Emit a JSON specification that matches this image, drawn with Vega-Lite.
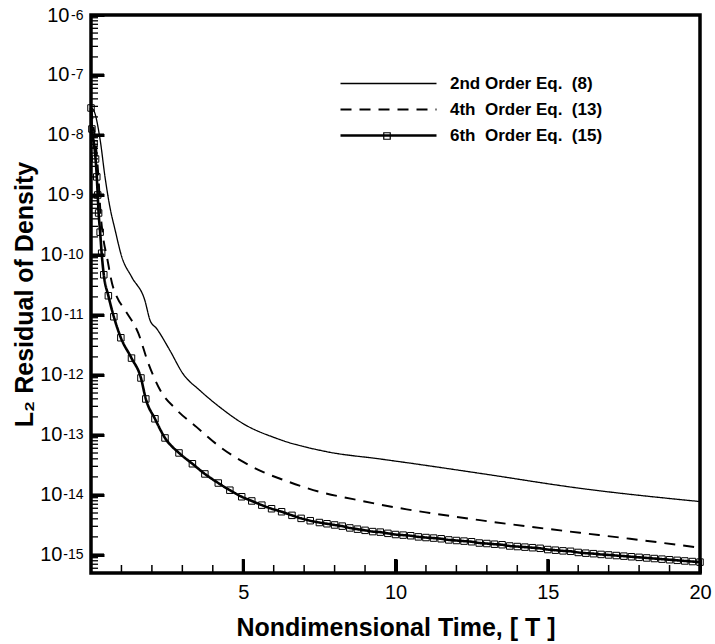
{
  "$schema": "https://vega.github.io/schema/vega-lite/v6.json",
  "width": 609,
  "height": 558,
  "autosize": {"type": "none"},
  "padding": {"left": 91, "top": 15, "right": 15, "bottom": 71},
  "background": "white",
  "config": {
    "view": {"stroke": "black", "strokeWidth": 3.5},
    "font": "Liberation Sans",
    "axis": {
      "labelFont": "Liberation Sans", "titleFont": "Liberation Sans",
      "labelColor": "black", "tickColor": "black", "titleColor": "black",
      "grid": false, "domain": false, "labelFlush": false, "labelOverlap": false, "ticks": true
    }
  },
  "datasets": {
    "yticks": [
      {"v": 1e-15, "kind": "major"}, {"v": 1e-14, "kind": "major"}, {"v": 1e-13, "kind": "major"},
      {"v": 1e-12, "kind": "major"}, {"v": 1e-11, "kind": "major"}, {"v": 1e-10, "kind": "major"},
      {"v": 1e-9, "kind": "major"}, {"v": 1e-8, "kind": "major"}, {"v": 1e-7, "kind": "major"},
      {"v": 5e-16, "kind": "minor"}, {"v": 6e-16, "kind": "minor"}, {"v": 7e-16, "kind": "minor"}, {"v": 8e-16, "kind": "minor"}, {"v": 9e-16, "kind": "minor"},
      {"v": 2e-15, "kind": "minor"}, {"v": 3e-15, "kind": "minor"}, {"v": 4e-15, "kind": "minor"}, {"v": 5e-15, "kind": "minor"}, {"v": 6e-15, "kind": "minor"}, {"v": 7e-15, "kind": "minor"}, {"v": 8e-15, "kind": "minor"}, {"v": 9e-15, "kind": "minor"},
      {"v": 2e-14, "kind": "minor"}, {"v": 3e-14, "kind": "minor"}, {"v": 4e-14, "kind": "minor"}, {"v": 5e-14, "kind": "minor"}, {"v": 6e-14, "kind": "minor"}, {"v": 7e-14, "kind": "minor"}, {"v": 8e-14, "kind": "minor"}, {"v": 9e-14, "kind": "minor"},
      {"v": 2e-13, "kind": "minor"}, {"v": 3e-13, "kind": "minor"}, {"v": 4e-13, "kind": "minor"}, {"v": 5e-13, "kind": "minor"}, {"v": 6e-13, "kind": "minor"}, {"v": 7e-13, "kind": "minor"}, {"v": 8e-13, "kind": "minor"}, {"v": 9e-13, "kind": "minor"},
      {"v": 2e-12, "kind": "minor"}, {"v": 3e-12, "kind": "minor"}, {"v": 4e-12, "kind": "minor"}, {"v": 5e-12, "kind": "minor"}, {"v": 6e-12, "kind": "minor"}, {"v": 7e-12, "kind": "minor"}, {"v": 8e-12, "kind": "minor"}, {"v": 9e-12, "kind": "minor"},
      {"v": 2e-11, "kind": "minor"}, {"v": 3e-11, "kind": "minor"}, {"v": 4e-11, "kind": "minor"}, {"v": 5e-11, "kind": "minor"}, {"v": 6e-11, "kind": "minor"}, {"v": 7e-11, "kind": "minor"}, {"v": 8e-11, "kind": "minor"}, {"v": 9e-11, "kind": "minor"},
      {"v": 2e-10, "kind": "minor"}, {"v": 3e-10, "kind": "minor"}, {"v": 4e-10, "kind": "minor"}, {"v": 5e-10, "kind": "minor"}, {"v": 6e-10, "kind": "minor"}, {"v": 7e-10, "kind": "minor"}, {"v": 8e-10, "kind": "minor"}, {"v": 9e-10, "kind": "minor"},
      {"v": 2e-9, "kind": "minor"}, {"v": 3e-9, "kind": "minor"}, {"v": 4e-9, "kind": "minor"}, {"v": 5e-9, "kind": "minor"}, {"v": 6e-9, "kind": "minor"}, {"v": 7e-9, "kind": "minor"}, {"v": 8e-9, "kind": "minor"}, {"v": 9e-9, "kind": "minor"},
      {"v": 2e-8, "kind": "minor"}, {"v": 3e-8, "kind": "minor"}, {"v": 4e-8, "kind": "minor"}, {"v": 5e-8, "kind": "minor"}, {"v": 6e-8, "kind": "minor"}, {"v": 7e-8, "kind": "minor"}, {"v": 8e-8, "kind": "minor"}, {"v": 9e-8, "kind": "minor"},
      {"v": 2e-7, "kind": "minor"}, {"v": 3e-7, "kind": "minor"}, {"v": 4e-7, "kind": "minor"}, {"v": 5e-7, "kind": "minor"}, {"v": 6e-7, "kind": "minor"}, {"v": 7e-7, "kind": "minor"}, {"v": 8e-7, "kind": "minor"}, {"v": 9e-7, "kind": "minor"}
    ],
    "xticks": [
      {"v": 5, "kind": "major"}, {"v": 10, "kind": "major"}, {"v": 15, "kind": "major"},
      {"v": 1, "kind": "minor"}, {"v": 2, "kind": "minor"}, {"v": 3, "kind": "minor"}, {"v": 4, "kind": "minor"},
      {"v": 6, "kind": "minor"}, {"v": 7, "kind": "minor"}, {"v": 8, "kind": "minor"}, {"v": 9, "kind": "minor"},
      {"v": 11, "kind": "minor"}, {"v": 12, "kind": "minor"}, {"v": 13, "kind": "minor"}, {"v": 14, "kind": "minor"},
      {"v": 16, "kind": "minor"}, {"v": 17, "kind": "minor"}, {"v": 18, "kind": "minor"}, {"v": 19, "kind": "minor"}
    ],
    "curves": [
      {"series": "2nd Order Eq.\u00a0\u00a0(8)", "x": 0, "y": 2.82e-8},
      {"series": "2nd Order Eq.\u00a0\u00a0(8)", "x": 0.08, "y": 2.63e-8},
      {"series": "2nd Order Eq.\u00a0\u00a0(8)", "x": 0.30, "y": 8.32e-9},
      {"series": "2nd Order Eq.\u00a0\u00a0(8)", "x": 0.46, "y": 2.0e-9},
      {"series": "2nd Order Eq.\u00a0\u00a0(8)", "x": 0.62, "y": 6.31e-10},
      {"series": "2nd Order Eq.\u00a0\u00a0(8)", "x": 0.79, "y": 2.63e-10},
      {"series": "2nd Order Eq.\u00a0\u00a0(8)", "x": 1.01, "y": 9.33e-11},
      {"series": "2nd Order Eq.\u00a0\u00a0(8)", "x": 1.34, "y": 4.27e-11},
      {"series": "2nd Order Eq.\u00a0\u00a0(8)", "x": 1.77, "y": 1.74e-11},
      {"series": "2nd Order Eq.\u00a0\u00a0(8)", "x": 1.94, "y": 8.13e-12},
      {"series": "2nd Order Eq.\u00a0\u00a0(8)", "x": 2.16, "y": 5.89e-12},
      {"series": "2nd Order Eq.\u00a0\u00a0(8)", "x": 2.59, "y": 2.57e-12},
      {"series": "2nd Order Eq.\u00a0\u00a0(8)", "x": 3.02, "y": 1.05e-12},
      {"series": "2nd Order Eq.\u00a0\u00a0(8)", "x": 3.58, "y": 5.5e-13},
      {"series": "2nd Order Eq.\u00a0\u00a0(8)", "x": 4.24, "y": 2.88e-13},
      {"series": "2nd Order Eq.\u00a0\u00a0(8)", "x": 4.99, "y": 1.55e-13},
      {"series": "2nd Order Eq.\u00a0\u00a0(8)", "x": 6.11, "y": 8.71e-14},
      {"series": "2nd Order Eq.\u00a0\u00a0(8)", "x": 7.75, "y": 5.25e-14},
      {"series": "2nd Order Eq.\u00a0\u00a0(8)", "x": 9.49, "y": 3.98e-14},
      {"series": "2nd Order Eq.\u00a0\u00a0(8)", "x": 10.48, "y": 3.39e-14},
      {"series": "2nd Order Eq.\u00a0\u00a0(8)", "x": 12.78, "y": 2.29e-14},
      {"series": "2nd Order Eq.\u00a0\u00a0(8)", "x": 16.06, "y": 1.29e-14},
      {"series": "2nd Order Eq.\u00a0\u00a0(8)", "x": 20, "y": 7.76e-15},

      {"series": "4th\u00a0\u00a0Order Eq.\u00a0\u00a0(13)", "x": 0, "y": 2.82e-8},
      {"series": "4th\u00a0\u00a0Order Eq.\u00a0\u00a0(13)", "x": 0.08, "y": 1.41e-8},
      {"series": "4th\u00a0\u00a0Order Eq.\u00a0\u00a0(13)", "x": 0.16, "y": 6.76e-9},
      {"series": "4th\u00a0\u00a0Order Eq.\u00a0\u00a0(13)", "x": 0.26, "y": 1.48e-9},
      {"series": "4th\u00a0\u00a0Order Eq.\u00a0\u00a0(13)", "x": 0.30, "y": 6.31e-10},
      {"series": "4th\u00a0\u00a0Order Eq.\u00a0\u00a0(13)", "x": 0.39, "y": 2.14e-10},
      {"series": "4th\u00a0\u00a0Order Eq.\u00a0\u00a0(13)", "x": 0.53, "y": 8.91e-11},
      {"series": "4th\u00a0\u00a0Order Eq.\u00a0\u00a0(13)", "x": 0.69, "y": 3.39e-11},
      {"series": "4th\u00a0\u00a0Order Eq.\u00a0\u00a0(13)", "x": 0.85, "y": 2.0e-11},
      {"series": "4th\u00a0\u00a0Order Eq.\u00a0\u00a0(13)", "x": 1.12, "y": 1.2e-11},
      {"series": "4th\u00a0\u00a0Order Eq.\u00a0\u00a0(13)", "x": 1.55, "y": 5.01e-12},
      {"series": "4th\u00a0\u00a0Order Eq.\u00a0\u00a0(13)", "x": 1.88, "y": 1.58e-12},
      {"series": "4th\u00a0\u00a0Order Eq.\u00a0\u00a0(13)", "x": 2.27, "y": 5.62e-13},
      {"series": "4th\u00a0\u00a0Order Eq.\u00a0\u00a0(13)", "x": 2.81, "y": 2.63e-13},
      {"series": "4th\u00a0\u00a0Order Eq.\u00a0\u00a0(13)", "x": 3.47, "y": 1.35e-13},
      {"series": "4th\u00a0\u00a0Order Eq.\u00a0\u00a0(13)", "x": 4.24, "y": 6.31e-14},
      {"series": "4th\u00a0\u00a0Order Eq.\u00a0\u00a0(13)", "x": 5.0, "y": 3.55e-14},
      {"series": "4th\u00a0\u00a0Order Eq.\u00a0\u00a0(13)", "x": 5.66, "y": 2.4e-14},
      {"series": "4th\u00a0\u00a0Order Eq.\u00a0\u00a0(13)", "x": 6.32, "y": 1.78e-14},
      {"series": "4th\u00a0\u00a0Order Eq.\u00a0\u00a0(13)", "x": 7.52, "y": 1.12e-14},
      {"series": "4th\u00a0\u00a0Order Eq.\u00a0\u00a0(13)", "x": 8.61, "y": 8.51e-15},
      {"series": "4th\u00a0\u00a0Order Eq.\u00a0\u00a0(13)", "x": 9.49, "y": 6.92e-15},
      {"series": "4th\u00a0\u00a0Order Eq.\u00a0\u00a0(13)", "x": 10.37, "y": 5.75e-15},
      {"series": "4th\u00a0\u00a0Order Eq.\u00a0\u00a0(13)", "x": 11.13, "y": 5.01e-15},
      {"series": "4th\u00a0\u00a0Order Eq.\u00a0\u00a0(13)", "x": 12.77, "y": 3.8e-15},
      {"series": "4th\u00a0\u00a0Order Eq.\u00a0\u00a0(13)", "x": 14.42, "y": 2.95e-15},
      {"series": "4th\u00a0\u00a0Order Eq.\u00a0\u00a0(13)", "x": 16.06, "y": 2.34e-15},
      {"series": "4th\u00a0\u00a0Order Eq.\u00a0\u00a0(13)", "x": 17.7, "y": 1.86e-15},
      {"series": "4th\u00a0\u00a0Order Eq.\u00a0\u00a0(13)", "x": 20, "y": 1.32e-15},

      {"series": "6th\u00a0\u00a0Order Eq.\u00a0\u00a0(15)", "x": 0, "y": 2.82e-8},
      {"series": "6th\u00a0\u00a0Order Eq.\u00a0\u00a0(15)", "x": 0.03, "y": 1.26e-8},
      {"series": "6th\u00a0\u00a0Order Eq.\u00a0\u00a0(15)", "x": 0.10, "y": 7.08e-9},
      {"series": "6th\u00a0\u00a0Order Eq.\u00a0\u00a0(15)", "x": 0.15, "y": 3.98e-9},
      {"series": "6th\u00a0\u00a0Order Eq.\u00a0\u00a0(15)", "x": 0.19, "y": 2.0e-9},
      {"series": "6th\u00a0\u00a0Order Eq.\u00a0\u00a0(15)", "x": 0.22, "y": 1.0e-9},
      {"series": "6th\u00a0\u00a0Order Eq.\u00a0\u00a0(15)", "x": 0.25, "y": 5.01e-10},
      {"series": "6th\u00a0\u00a0Order Eq.\u00a0\u00a0(15)", "x": 0.30, "y": 2.4e-10},
      {"series": "6th\u00a0\u00a0Order Eq.\u00a0\u00a0(15)", "x": 0.35, "y": 1.07e-10},
      {"series": "6th\u00a0\u00a0Order Eq.\u00a0\u00a0(15)", "x": 0.42, "y": 4.68e-11},
      {"series": "6th\u00a0\u00a0Order Eq.\u00a0\u00a0(15)", "x": 0.57, "y": 2.09e-11},
      {"series": "6th\u00a0\u00a0Order Eq.\u00a0\u00a0(15)", "x": 0.75, "y": 9.33e-12},
      {"series": "6th\u00a0\u00a0Order Eq.\u00a0\u00a0(15)", "x": 0.98, "y": 4.17e-12},
      {"series": "6th\u00a0\u00a0Order Eq.\u00a0\u00a0(15)", "x": 1.33, "y": 1.91e-12},
      {"series": "6th\u00a0\u00a0Order Eq.\u00a0\u00a0(15)", "x": 1.64, "y": 8.91e-13},
      {"series": "6th\u00a0\u00a0Order Eq.\u00a0\u00a0(15)", "x": 1.80, "y": 3.98e-13},
      {"series": "6th\u00a0\u00a0Order Eq.\u00a0\u00a0(15)", "x": 2.10, "y": 1.86e-13},
      {"series": "6th\u00a0\u00a0Order Eq.\u00a0\u00a0(15)", "x": 2.43, "y": 8.91e-14},
      {"series": "6th\u00a0\u00a0Order Eq.\u00a0\u00a0(15)", "x": 2.89, "y": 5.01e-14},
      {"series": "6th\u00a0\u00a0Order Eq.\u00a0\u00a0(15)", "x": 3.33, "y": 3.31e-14},
      {"series": "6th\u00a0\u00a0Order Eq.\u00a0\u00a0(15)", "x": 3.74, "y": 2.24e-14},
      {"series": "6th\u00a0\u00a0Order Eq.\u00a0\u00a0(15)", "x": 4.18, "y": 1.58e-14},
      {"series": "6th\u00a0\u00a0Order Eq.\u00a0\u00a0(15)", "x": 4.56, "y": 1.2e-14},
      {"series": "6th\u00a0\u00a0Order Eq.\u00a0\u00a0(15)", "x": 4.95, "y": 9.33e-15},
      {"series": "6th\u00a0\u00a0Order Eq.\u00a0\u00a0(15)", "x": 5.28, "y": 7.94e-15},
      {"series": "6th\u00a0\u00a0Order Eq.\u00a0\u00a0(15)", "x": 5.61, "y": 6.76e-15},
      {"series": "6th\u00a0\u00a0Order Eq.\u00a0\u00a0(15)", "x": 5.93, "y": 5.89e-15},
      {"series": "6th\u00a0\u00a0Order Eq.\u00a0\u00a0(15)", "x": 6.26, "y": 5.25e-15},
      {"series": "6th\u00a0\u00a0Order Eq.\u00a0\u00a0(15)", "x": 6.6, "y": 4.57e-15},
      {"series": "6th\u00a0\u00a0Order Eq.\u00a0\u00a0(15)", "x": 6.9, "y": 4.07e-15},
      {"series": "6th\u00a0\u00a0Order Eq.\u00a0\u00a0(15)", "x": 7.2, "y": 3.72e-15},
      {"series": "6th\u00a0\u00a0Order Eq.\u00a0\u00a0(15)", "x": 7.5, "y": 3.47e-15},
      {"series": "6th\u00a0\u00a0Order Eq.\u00a0\u00a0(15)", "x": 7.75, "y": 3.31e-15},
      {"series": "6th\u00a0\u00a0Order Eq.\u00a0\u00a0(15)", "x": 8.0, "y": 3.16e-15},
      {"series": "6th\u00a0\u00a0Order Eq.\u00a0\u00a0(15)", "x": 8.25, "y": 3.02e-15},
      {"series": "6th\u00a0\u00a0Order Eq.\u00a0\u00a0(15)", "x": 8.5, "y": 2.82e-15},
      {"series": "6th\u00a0\u00a0Order Eq.\u00a0\u00a0(15)", "x": 8.75, "y": 2.69e-15},
      {"series": "6th\u00a0\u00a0Order Eq.\u00a0\u00a0(15)", "x": 9.0, "y": 2.57e-15},
      {"series": "6th\u00a0\u00a0Order Eq.\u00a0\u00a0(15)", "x": 9.25, "y": 2.45e-15},
      {"series": "6th\u00a0\u00a0Order Eq.\u00a0\u00a0(15)", "x": 9.5, "y": 2.4e-15},
      {"series": "6th\u00a0\u00a0Order Eq.\u00a0\u00a0(15)", "x": 9.75, "y": 2.29e-15},
      {"series": "6th\u00a0\u00a0Order Eq.\u00a0\u00a0(15)", "x": 10.0, "y": 2.19e-15},
      {"series": "6th\u00a0\u00a0Order Eq.\u00a0\u00a0(15)", "x": 10.25, "y": 2.14e-15},
      {"series": "6th\u00a0\u00a0Order Eq.\u00a0\u00a0(15)", "x": 10.5, "y": 2.09e-15},
      {"series": "6th\u00a0\u00a0Order Eq.\u00a0\u00a0(15)", "x": 10.75, "y": 2.0e-15},
      {"series": "6th\u00a0\u00a0Order Eq.\u00a0\u00a0(15)", "x": 11.0, "y": 1.95e-15},
      {"series": "6th\u00a0\u00a0Order Eq.\u00a0\u00a0(15)", "x": 11.25, "y": 1.91e-15},
      {"series": "6th\u00a0\u00a0Order Eq.\u00a0\u00a0(15)", "x": 11.5, "y": 1.86e-15},
      {"series": "6th\u00a0\u00a0Order Eq.\u00a0\u00a0(15)", "x": 11.75, "y": 1.78e-15},
      {"series": "6th\u00a0\u00a0Order Eq.\u00a0\u00a0(15)", "x": 12.0, "y": 1.74e-15},
      {"series": "6th\u00a0\u00a0Order Eq.\u00a0\u00a0(15)", "x": 12.25, "y": 1.70e-15},
      {"series": "6th\u00a0\u00a0Order Eq.\u00a0\u00a0(15)", "x": 12.5, "y": 1.66e-15},
      {"series": "6th\u00a0\u00a0Order Eq.\u00a0\u00a0(15)", "x": 12.75, "y": 1.58e-15},
      {"series": "6th\u00a0\u00a0Order Eq.\u00a0\u00a0(15)", "x": 13.0, "y": 1.55e-15},
      {"series": "6th\u00a0\u00a0Order Eq.\u00a0\u00a0(15)", "x": 13.25, "y": 1.51e-15},
      {"series": "6th\u00a0\u00a0Order Eq.\u00a0\u00a0(15)", "x": 13.5, "y": 1.48e-15},
      {"series": "6th\u00a0\u00a0Order Eq.\u00a0\u00a0(15)", "x": 13.75, "y": 1.41e-15},
      {"series": "6th\u00a0\u00a0Order Eq.\u00a0\u00a0(15)", "x": 14.0, "y": 1.38e-15},
      {"series": "6th\u00a0\u00a0Order Eq.\u00a0\u00a0(15)", "x": 14.25, "y": 1.35e-15},
      {"series": "6th\u00a0\u00a0Order Eq.\u00a0\u00a0(15)", "x": 14.5, "y": 1.32e-15},
      {"series": "6th\u00a0\u00a0Order Eq.\u00a0\u00a0(15)", "x": 14.75, "y": 1.29e-15},
      {"series": "6th\u00a0\u00a0Order Eq.\u00a0\u00a0(15)", "x": 15.0, "y": 1.23e-15},
      {"series": "6th\u00a0\u00a0Order Eq.\u00a0\u00a0(15)", "x": 15.25, "y": 1.20e-15},
      {"series": "6th\u00a0\u00a0Order Eq.\u00a0\u00a0(15)", "x": 15.5, "y": 1.17e-15},
      {"series": "6th\u00a0\u00a0Order Eq.\u00a0\u00a0(15)", "x": 15.75, "y": 1.15e-15},
      {"series": "6th\u00a0\u00a0Order Eq.\u00a0\u00a0(15)", "x": 16.0, "y": 1.10e-15},
      {"series": "6th\u00a0\u00a0Order Eq.\u00a0\u00a0(15)", "x": 16.25, "y": 1.07e-15},
      {"series": "6th\u00a0\u00a0Order Eq.\u00a0\u00a0(15)", "x": 16.5, "y": 1.05e-15},
      {"series": "6th\u00a0\u00a0Order Eq.\u00a0\u00a0(15)", "x": 16.75, "y": 1.02e-15},
      {"series": "6th\u00a0\u00a0Order Eq.\u00a0\u00a0(15)", "x": 17.0, "y": 1.0e-15},
      {"series": "6th\u00a0\u00a0Order Eq.\u00a0\u00a0(15)", "x": 17.25, "y": 9.77e-16},
      {"series": "6th\u00a0\u00a0Order Eq.\u00a0\u00a0(15)", "x": 17.5, "y": 9.55e-16},
      {"series": "6th\u00a0\u00a0Order Eq.\u00a0\u00a0(15)", "x": 17.75, "y": 9.33e-16},
      {"series": "6th\u00a0\u00a0Order Eq.\u00a0\u00a0(15)", "x": 18.0, "y": 9.12e-16},
      {"series": "6th\u00a0\u00a0Order Eq.\u00a0\u00a0(15)", "x": 18.25, "y": 8.91e-16},
      {"series": "6th\u00a0\u00a0Order Eq.\u00a0\u00a0(15)", "x": 18.5, "y": 8.71e-16},
      {"series": "6th\u00a0\u00a0Order Eq.\u00a0\u00a0(15)", "x": 18.75, "y": 8.51e-16},
      {"series": "6th\u00a0\u00a0Order Eq.\u00a0\u00a0(15)", "x": 19.0, "y": 8.32e-16},
      {"series": "6th\u00a0\u00a0Order Eq.\u00a0\u00a0(15)", "x": 19.25, "y": 8.13e-16},
      {"series": "6th\u00a0\u00a0Order Eq.\u00a0\u00a0(15)", "x": 19.5, "y": 7.94e-16},
      {"series": "6th\u00a0\u00a0Order Eq.\u00a0\u00a0(15)", "x": 19.75, "y": 7.76e-16},
      {"series": "6th\u00a0\u00a0Order Eq.\u00a0\u00a0(15)", "x": 20.0, "y": 7.59e-16}
    ]
  },
  "data": {"name": "curves"},
  "layer": [
    {
      "mark": {"type": "line", "color": "black", "interpolate": "monotone"},
      "encoding": {
        "x": {"field": "x", "type": "quantitative",
          "scale": {"domain": [0, 20], "nice": false, "zero": false},
          "axis": {"orient": "bottom", "values": [5, 10, 15, 20], "offset": -14, "tickSize": 14, "tickWidth": 3, "zindex": 2,
            "labelFontSize": 20, "labelPadding": 9,
            "title": "Nondimensional Time, [ T ]", "titleFontSize": 25, "titleFontWeight": "bold",
            "titleBaseline": "alphabetic", "titleY": 76, "titleX": 304.5, "titleAlign": "center"}},
        "y": {"field": "y", "type": "quantitative",
          "scale": {"type": "log", "domain": [5e-16, 1e-6], "nice": false},
          "axis": {"orient": "left",
            "values": [1e-15, 1e-14, 1e-13, 1e-12, 1e-11, 1e-10, 1e-9, 1e-8, 1e-7, 1e-6],
            "labelExpr": "'10'", "offset": -13, "tickSize": 13, "tickWidth": 3, "zindex": 2,
            "labelFontSize": 20, "labelAlign": "right", "labelBaseline": "middle",
            "labelPadding": {"condition": {"test": "datum.value > 5e-10", "value": 22}, "value": 29},
            "labelDy": 1,
            "title": "L₂ Residual of Density", "titleFontSize": 25, "titleFontWeight": "bold",
            "titleAngle": 270, "titleBaseline": "alphabetic", "titleAlign": "center", "titleX": -72, "titleY": 279}},
        "strokeDash": {"field": "series", "type": "nominal",
          "scale": {"range": [[1, 0], [11, 8], [1, 0]]},
          "legend": {"title": null, "orient": "none", "legendX": 246, "legendY": 60,
            "symbolType": "M-9.6,0H9.6", "symbolSize": 100, "symbolOffset": 43, "symbolStrokeWidth": 1.6,
            "symbolStrokeColor": "black", "rowPadding": 8, "padding": 0,
            "labelFontWeight": "bold", "labelFontSize": 17, "labelColor": "black", "labelOffset": 53}},
        "strokeWidth": {"field": "series", "type": "ordinal",
          "scale": {"range": [1.3, 2.6, 1.3]}, "legend": null}
      }
    },
    {
      "transform": [{"filter": "datum.x >= 0 && datum.series == '6th\u00a0\u00a0Order Eq.\u00a0\u00a0(15)'"}],
      "mark": {"type": "point", "size": 42, "filled": false, "color": "black", "strokeWidth": 1, "opacity": 1},
      "encoding": {
        "x": {"field": "x", "type": "quantitative",
          "scale": {"domain": [0, 20], "nice": false, "zero": false}, "axis": null},
        "y": {"field": "y", "type": "quantitative",
          "scale": {"type": "log", "domain": [5e-16, 1e-6], "nice": false}, "axis": null},
        "shape": {"field": "series", "type": "nominal", "scale": {"range": ["square"]},
          "legend": {"title": null, "orient": "none", "legendX": 291, "legendY": 116,
            "symbolSize": 42, "symbolOffset": 0, "padding": 0, "labelExpr": "''",
            "symbolStrokeColor": "black", "symbolFillColor": "white", "symbolStrokeWidth": 1.2}}
      }
    },
    {
      "data": {"name": "yticks"},
      "transform": [{"filter": "datum.kind == 'major'"}],
      "mark": {"type": "tick", "orient": "horizontal", "color": "black", "size": 13, "thickness": 3, "xOffset": 6.5, "opacity": 1},
      "encoding": {
        "x": {"datum": 0, "type": "quantitative", "scale": {"domain": [0, 20], "nice": false, "zero": false}, "axis": null},
        "y": {"field": "v", "type": "quantitative", "scale": {"type": "log", "domain": [5e-16, 1e-6], "nice": false}, "axis": null}
      }
    },
    {
      "data": {"name": "yticks"},
      "transform": [{"filter": "datum.kind == 'minor'"}],
      "mark": {"type": "tick", "orient": "horizontal", "color": "black", "size": 7, "thickness": 1.3, "xOffset": 3.5, "opacity": 1},
      "encoding": {
        "x": {"datum": 0, "type": "quantitative", "scale": {"domain": [0, 20], "nice": false, "zero": false}, "axis": null},
        "y": {"field": "v", "type": "quantitative", "scale": {"type": "log", "domain": [5e-16, 1e-6], "nice": false}, "axis": null}
      }
    },
    {
      "data": {"name": "xticks"},
      "transform": [{"filter": "datum.kind == 'major'"}],
      "mark": {"type": "tick", "orient": "vertical", "color": "black", "size": 14, "thickness": 3, "yOffset": -7, "opacity": 1},
      "encoding": {
        "x": {"field": "v", "type": "quantitative", "scale": {"domain": [0, 20], "nice": false, "zero": false}, "axis": null},
        "y": {"datum": 5e-16, "type": "quantitative", "scale": {"type": "log", "domain": [5e-16, 1e-6], "nice": false}, "axis": null}
      }
    },
    {
      "data": {"name": "xticks"},
      "transform": [{"filter": "datum.kind == 'minor'"}],
      "mark": {"type": "tick", "orient": "vertical", "color": "black", "size": 8, "thickness": 1.5, "yOffset": -4, "opacity": 1},
      "encoding": {
        "x": {"field": "v", "type": "quantitative", "scale": {"domain": [0, 20], "nice": false, "zero": false}, "axis": null},
        "y": {"datum": 5e-16, "type": "quantitative", "scale": {"type": "log", "domain": [5e-16, 1e-6], "nice": false}, "axis": null}
      }
    },
    {
      "mark": {"type": "point", "opacity": 0, "filled": false, "color": "black"},
      "encoding": {
        "x": {"field": "x", "type": "quantitative",
          "scale": {"domain": [0, 20], "nice": false, "zero": false}, "axis": null},
        "y": {"field": "y", "type": "quantitative",
          "scale": {"type": "log", "domain": [5e-16, 1e-6], "nice": false},
          "axis": {"orient": "left",
            "values": [1e-15, 1e-14, 1e-13, 1e-12, 1e-11, 1e-10, 1e-9, 1e-8, 1e-7, 1e-6],
            "labelExpr": "'-' + round(-log(datum.value) / LN10)", "ticks": false,
            "labelFontSize": 14, "labelAlign": "right", "labelBaseline": "middle", "labelPadding": 8, "labelDy": -8,
            "title": null}}
      }
    }
  ],
  "resolve": {"axis": {"x": "independent", "y": "independent"}}
}
